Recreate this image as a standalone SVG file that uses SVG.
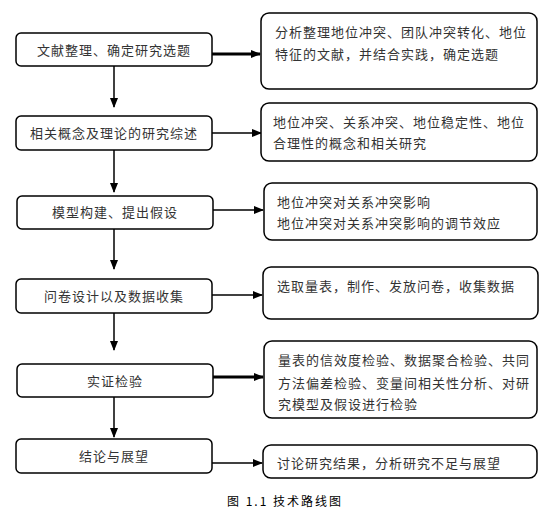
<svg xmlns="http://www.w3.org/2000/svg" width="555" height="515" viewBox="0 0 555 515">
<defs>
<marker id="ah" markerWidth="10" markerHeight="8" refX="9" refY="4" orient="auto" markerUnits="userSpaceOnUse">
<path d="M0,0 L10,4 L0,8 Z" fill="#000"/>
</marker>
<style>
.box{fill:#fff;stroke:#000;stroke-width:1.5}
.t{font-family:"Noto Sans CJK SC","Noto Sans",sans-serif;font-size:13px;fill:#333;letter-spacing:1px}
.c{text-anchor:middle}
.ln{stroke:#000;stroke-width:1.5;fill:none;marker-end:url(#ah)}
.thick{stroke-width:3}
.cap{font-family:"Noto Sans CJK SC","Liberation Sans",sans-serif;font-size:12px;fill:#000;letter-spacing:2px}
</style>
</defs>
<rect width="555" height="515" fill="#fff"/>
<g id="connectors">
<line class="ln" x1="114" y1="66" x2="114" y2="107"/>
<line class="ln" x1="114" y1="150" x2="114" y2="192"/>
<line class="ln" x1="114" y1="229" x2="114" y2="269"/>
<line class="ln" x1="114" y1="313" x2="114" y2="350"/>
<line class="ln" x1="114" y1="397" x2="114" y2="437"/>
<line class="ln thick" x1="212" y1="54" x2="260" y2="54"/>
<line class="ln" x1="212" y1="133" x2="261" y2="133"/>
<line class="ln" x1="213" y1="210" x2="263" y2="210"/>
<line class="ln" x1="212" y1="295" x2="262" y2="295"/>
<line class="ln thick" x1="213" y1="377" x2="263" y2="377"/>
<line class="ln" x1="212" y1="463" x2="262" y2="463"/>
</g>
<g id="n1"><rect class="box" x="16" y="33" width="196" height="33" rx="5"/><text class="t c" x="114" y="55">文献整理、确定研究选题</text></g>
<g id="n2"><rect class="box" x="16" y="116" width="196" height="34" rx="5"/><text class="t c" x="114" y="138">相关概念及理论的研究综述</text></g>
<g id="n3"><rect class="box" x="17" y="196" width="196" height="33" rx="5"/><text class="t c" x="115" y="217">模型构建、提出假设</text></g>
<g id="n4"><rect class="box" x="16" y="279" width="196" height="34" rx="5"/><text class="t c" x="114" y="301">问卷设计以及数据收集</text></g>
<g id="n5"><rect class="box" x="17" y="364" width="196" height="33" rx="5"/><text class="t c" x="115" y="386">实证检验</text></g>
<g id="n6"><rect class="box" x="16" y="439" width="196" height="34" rx="5"/><text class="t c" x="114" y="461">结论与展望</text></g>
<g id="r1"><rect class="box" x="261" y="13" width="276" height="76" rx="8"/><text class="t" x="275" y="37">分析整理地位冲突、团队冲突转化、地位</text><text class="t" x="275" y="59">特征的文献，并结合实践，确定选题</text></g>
<g id="r2"><rect class="box" x="261" y="103" width="276" height="58" rx="8"/><text class="t" x="273" y="127">地位冲突、关系冲突、地位稳定性、地位</text><text class="t" x="273" y="148">合理性的概念和相关研究</text></g>
<g id="r3"><rect class="box" x="264" y="183" width="273" height="57" rx="8"/><text class="t" x="277" y="207">地位冲突对关系冲突影响</text><text class="t" x="277" y="228">地位冲突对关系冲突影响的调节效应</text></g>
<g id="r4"><rect class="box" x="263" y="267" width="275" height="52" rx="8"/><text class="t" x="277" y="291">选取量表，制作、发放问卷，收集数据</text></g>
<g id="r5"><rect class="box" x="264" y="341" width="273" height="77" rx="8"/><text class="t" x="278" y="365">量表的信效度检验、数据聚合检验、共同</text><text class="t" x="278" y="388">方法偏差检验、变量间相关性分析、对研</text><text class="t" x="278" y="409">究模型及假设进行检验</text></g>
<g id="r6"><rect class="box" x="263" y="445" width="274" height="33" rx="8"/><text class="t" x="277" y="468">讨论研究结果，分析研究不足与展望</text></g>
<text class="cap" x="227" y="506">图 1.1 技术路线图</text>
</svg>
